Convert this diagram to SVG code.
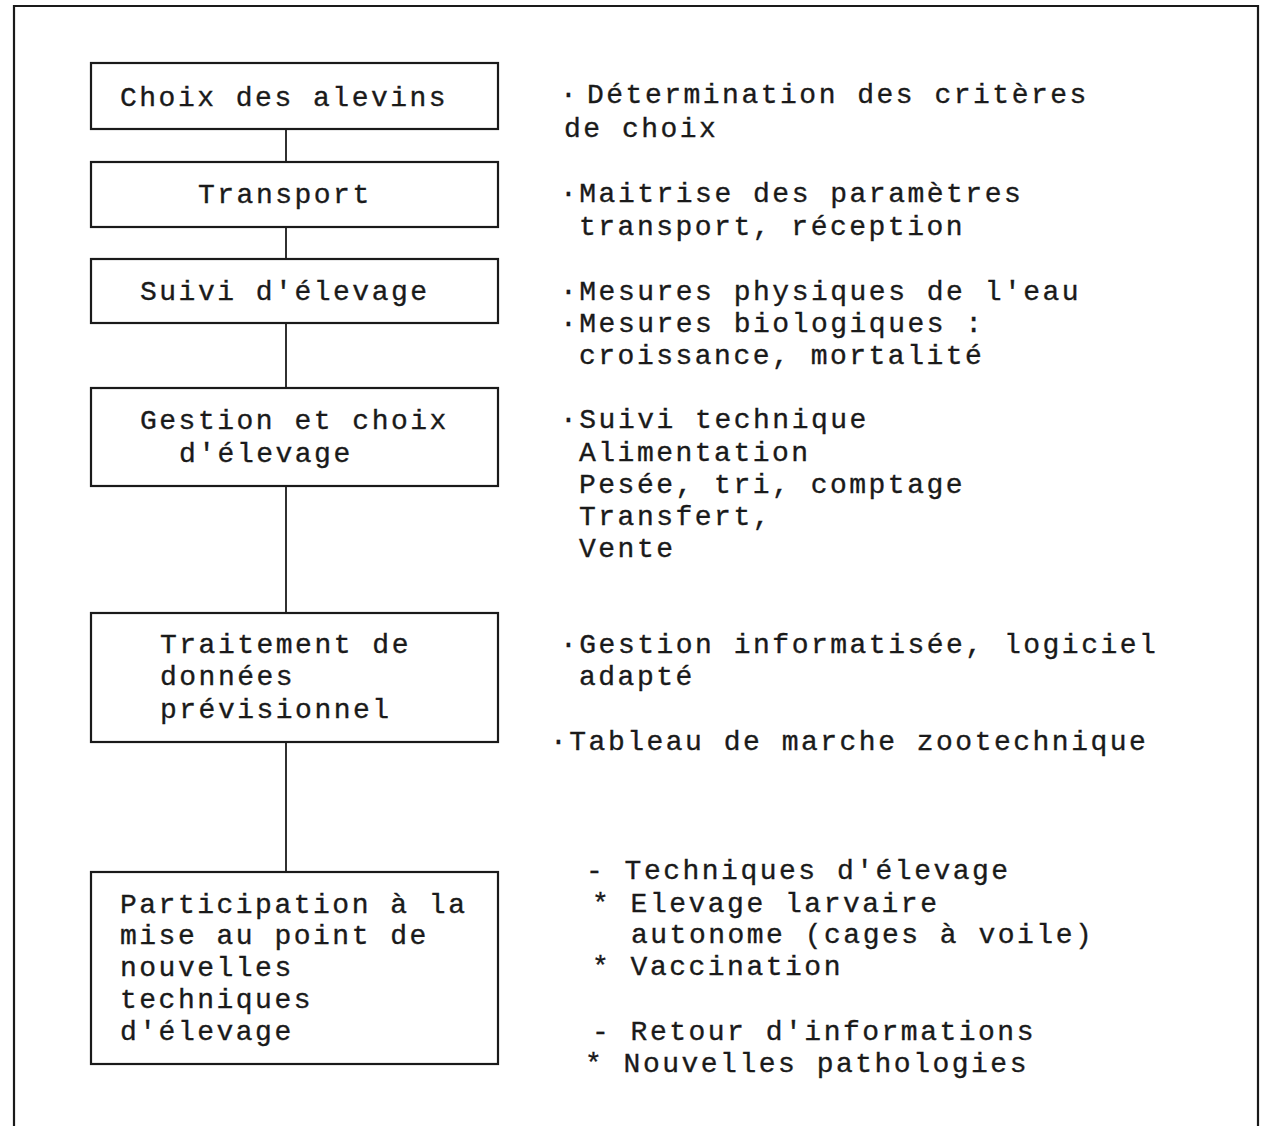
<svg xmlns="http://www.w3.org/2000/svg" width="1263" height="1126" viewBox="0 0 1263 1126">
  <style>
    .frame { fill: none; stroke: #1a1a1a; stroke-width: 2.2; }
    .box { fill: none; stroke: #1a1a1a; stroke-width: 2.2; }
    .link { fill: none; stroke: #1a1a1a; stroke-width: 1.8; }
    text { font-family: "Liberation Mono", "Courier New", monospace; font-size: 28px; letter-spacing: 2.5px; fill: #1a1a1a; stroke: #1a1a1a; stroke-width: 0.35; }
  </style>
  <rect width="1263" height="1126" fill="#ffffff"/>

  <!-- outer frame, open at the bottom edge of the page -->
  <path class="frame" d="M14 1130 V6 H1258 V1130"/>

  <!-- vertical links between the stages -->
  <g id="connectors">
    <line class="link" x1="286" y1="129" x2="286" y2="162"/>
    <line class="link" x1="286" y1="227" x2="286" y2="259"/>
    <line class="link" x1="286" y1="323" x2="286" y2="388"/>
    <line class="link" x1="286" y1="486" x2="286" y2="613"/>
    <line class="link" x1="286" y1="742" x2="286" y2="872"/>
  </g>

  <g id="choix-alevins">
    <rect class="box" x="91" y="63" width="407" height="66"/>
    <text x="120" y="106">Choix des alevins</text>
  </g>

  <g id="transport">
    <rect class="box" x="91" y="162" width="407" height="65"/>
    <text x="198" y="203">Transport</text>
  </g>

  <g id="suivi-elevage">
    <rect class="box" x="91" y="259" width="407" height="64"/>
    <text x="140" y="300">Suivi d'élevage</text>
  </g>

  <g id="gestion-choix">
    <rect class="box" x="91" y="388" width="407" height="98"/>
    <text x="140" y="429">Gestion et choix</text>
    <text x="179" y="462">d'élevage</text>
  </g>

  <g id="traitement-donnees">
    <rect class="box" x="91" y="613" width="407" height="129"/>
    <text x="160" y="653">Traitement de</text>
    <text x="160" y="685">données</text>
    <text x="160" y="718">prévisionnel</text>
  </g>

  <g id="participation">
    <rect class="box" x="91" y="872" width="407" height="192"/>
    <text x="120" y="913">Participation à la</text>
    <text x="120" y="944">mise au point de</text>
    <text x="120" y="976">nouvelles</text>
    <text x="120" y="1008">techniques</text>
    <text x="120" y="1040">d'élevage</text>
  </g>

  <!-- notes beside each stage -->
  <g id="notes">
    <text x="560" y="103">·</text>
    <text x="587" y="103">Détermination des critères</text>
    <text x="564" y="137">de choix</text>

    <text x="560" y="202">·Maitrise des paramètres</text>
    <text x="579" y="235">transport, réception</text>

    <text x="560" y="300">·Mesures physiques de l'eau</text>
    <text x="560" y="332">·Mesures biologiques :</text>
    <text x="579" y="364">croissance, mortalité</text>

    <text x="560" y="428">·Suivi technique</text>
    <text x="579" y="461">Alimentation</text>
    <text x="579" y="493">Pesée, tri, comptage</text>
    <text x="579" y="525">Transfert,</text>
    <text x="579" y="557">Vente</text>

    <text x="560" y="653">·Gestion informatisée, logiciel</text>
    <text x="579" y="685">adapté</text>
    <text x="550" y="750">·Tableau de marche zootechnique</text>

    <text x="586" y="879">- Techniques d'élevage</text>
    <text x="592" y="912">* Elevage larvaire</text>
    <text x="631" y="943">autonome (cages à voile)</text>
    <text x="592" y="975">* Vaccination</text>
    <text x="592" y="1040">- Retour d'informations</text>
    <text x="585" y="1072">* Nouvelles pathologies</text>
  </g>
</svg>
